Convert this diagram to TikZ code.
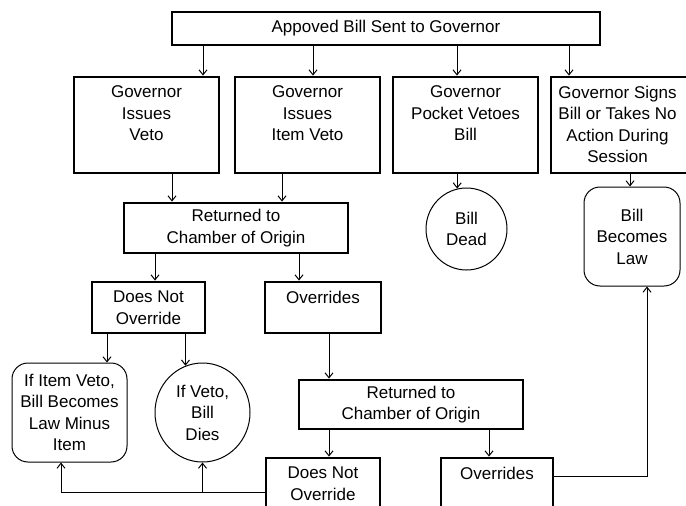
\documentclass[tikz,border=0pt]{standalone}
\usepackage{fontspec}
\setmainfont{Liberation Sans}
\usetikzlibrary{arrows.meta,shapes.geometric}
\begin{document}
\begin{tikzpicture}[x=1pt,y=-1pt,
  every node/.style={font=\fontsize{17}{21.5}\selectfont, align=center},
  sbox/.style={draw, line width=2.8pt, rectangle, inner sep=0pt},
  rbox/.style={draw, line width=1pt, rectangle, rounded corners=16pt, inner sep=0pt},
  ebox/.style={draw, line width=1pt, ellipse, inner sep=0pt},
  arr/.style={line width=1pt, -{Straight Barb[length=5pt,width=8pt]}},
  txt/.style={inner sep=0pt, anchor=north}
]
\useasboundingbox (0,0) rectangle (686,506);
\clip (0,0) rectangle (686,506);

% x / y markers
\coordinate (x61) at (61,0);
\coordinate (x107) at (107,0);
\coordinate (x155) at (155,0);
\coordinate (x172) at (172,0);
\coordinate (x203) at (203,0);
\coordinate (x282) at (282,0);
\coordinate (x299) at (299,0);
\coordinate (x313) at (313,0);
\coordinate (x329) at (329,0);
\coordinate (x457) at (457,0);
\coordinate (x489) at (489,0);
\coordinate (x569) at (569,0);
\coordinate (x630) at (630,0);
\coordinate (x647) at (647,0);
\coordinate (y476) at (0,476);
\coordinate (y492) at (0,492);

% top
\node[sbox, minimum width=428pt, minimum height=33pt] (top) at (386,28.5) {Appoved Bill Sent to Governor};

% row 2
\node[sbox, minimum width=145pt, minimum height=96pt] (g1) at (146.5,125) {};
\node[txt] (g1t) at ([yshift=-10pt]g1.north) {Governor\\Issues\\Veto};
\node[sbox, minimum width=145pt, minimum height=96pt] (g2) at (307.5,125) {};
\node[txt] (g2t) at ([yshift=-10pt]g2.north) {Governor\\Issues\\Item Veto};
\node[sbox, minimum width=145pt, minimum height=96pt] (g3) at (465.5,125) {};
\node[txt] (g3t) at ([yshift=-10pt]g3.north) {Governor\\Pocket Vetoes\\Bill};
\node[sbox, minimum width=145pt, minimum height=96pt] (g4) at (623.5,125) {};
\node[txt] (g4t) at ([xshift=-6pt,yshift=-10pt]g4.north) {Governor Signs\\Bill or Takes No\\Action During\\Session};

\foreach \xx/\g in {x203/g1,x313/g2,x457/g3,x569/g4}
  \draw[arr] (top.south -| \xx) -- (\g.north -| \xx);

% row 3
\node[sbox, minimum width=224pt, minimum height=50pt] (ret1) at (236,228) {Returned to\\Chamber of Origin};
\node[ebox, minimum width=81pt, minimum height=82pt] (dead) at (466.5,229) {Bill\\Dead};
\node[rbox, minimum width=96pt, minimum height=99pt] (law) at (632,236.5) {Bill\\Becomes\\Law};

\draw[arr] (g1.south -| x172) -- (ret1.north -| x172);
\draw[arr] (g2.south -| x282) -- (ret1.north -| x282);
\draw[arr] (g3.south -| dead.103) -- (dead.103);
\draw[arr] (g4.south -| x630) -- (law.north -| x630);

% row 4
\node[sbox, minimum width=113pt, minimum height=51pt] (dno1) at (148.5,307.5) {Does Not\\Override};
\node[sbox, minimum width=116pt, minimum height=51pt] (ov1) at (323,307.5) {};
\node[txt] (ov1t) at ([yshift=-10pt]ov1.north) {Overrides};

\draw[arr] (ret1.south -| x155) -- (dno1.north -| x155);
\draw[arr] (ret1.south -| x299) -- (ov1.north -| x299);

% row 5
\node[rbox, minimum width=115pt, minimum height=99pt] (iv) at (69.5,412.5) {If Item Veto,\\Bill Becomes\\Law Minus\\Item};
\node[ebox, minimum width=95pt, minimum height=99pt] (vd) at (202.5,412.5) {If Veto,\\Bill\\Dies};
\node[sbox, minimum width=224pt, minimum height=49pt] (ret2) at (411,404.5) {Returned to\\Chamber of Origin};

\draw[arr] (dno1.south -| x107) -- (iv.north -| x107);
\draw[arr] (dno1.south -| vd.110) -- (vd.110);
\draw[arr] (ov1.south -| x329) -- (ret2.north -| x329);

% row 6
\node[sbox, minimum width=114pt, minimum height=51pt] (dno2) at (323,483.5) {Does Not\\Override};
\node[sbox, minimum width=112pt, minimum height=51pt] (ov2) at (497,483.5) {};
\node[txt] (ov2t) at ([yshift=-10pt]ov2.north) {Overrides};

\draw[arr] (ret2.south -| x329) -- (dno2.north -| x329);
\draw[arr] (ret2.south -| x489) -- (ov2.north -| x489);

\draw[arr] (dno2.west |- y492) -| (iv.south -| x61);
\draw[arr] (vd.south |- y492) -- (vd.south);
\draw[arr] (ov2.east |- y476) -| (law.south -| x647);
\end{tikzpicture}
\end{document}
